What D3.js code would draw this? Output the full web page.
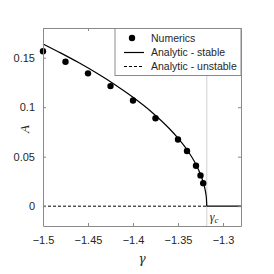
<!DOCTYPE html>
<html>
<head>
<meta charset="utf-8">
<script src="https://cdn.jsdelivr.net/npm/d3@7"></script>
<style>
  body { margin: 0; background: #fff; }
  svg text { font-family: "Liberation Sans", Arial, sans-serif; }
</style>
</head>
<body>
<div id="chart"></div>
<script>
// numerics (dots)
const numGamma = [-1.5, -1.475, -1.45, -1.425, -1.4, -1.375, -1.35, -1.34, -1.33, -1.325, -1.322];
const numA     = [0.1565, 0.1459, 0.1342, 0.1213, 0.1068, 0.0889, 0.0673, 0.0557, 0.0409, 0.0311, 0.0233];

// analytic stable branch
const anaGamma = [-1.5, -1.48, -1.46, -1.44, -1.42, -1.4, -1.38, -1.36, -1.35, -1.34, -1.33, -1.325, -1.322, -1.32, -1.319, -1.3185, -1.318];
const anaA     = [0.1639, 0.1546, 0.1448, 0.1342, 0.1227, 0.1100, 0.0957, 0.0787, 0.0687, 0.0570, 0.0421, 0.0321, 0.0243, 0.0172, 0.0121, 0.0086, 0];

const gammaC = -1.318;
const xTicks = [-1.5, -1.45, -1.4, -1.35, -1.3];
const yTicks = [0, 0.05, 0.1, 0.15];
const legendLabels = ['Numerics', 'Analytic - stable', 'Analytic - unstable'];

const W = 274, H = 274;
const margin = { top: 28, right: 33, bottom: 48, left: 43 };
const iw = W - margin.left - margin.right;
const ih = H - margin.top - margin.bottom;

const svg = d3.select('#chart').append('svg')
    .attr('width', W)
    .attr('height', H);

const g = svg.append('g').attr('transform', `translate(${margin.left},${margin.top})`);

const x = d3.scaleLinear().domain([-1.5, -1.28]).range([0, iw]);
const y = d3.scaleLinear().domain([-0.02, 0.18]).range([ih, 0]);

const axisCol = '#8a8a8a';
const textCol = '#262626';

// vertical line at gamma_c
g.append('line')
    .attr('x1', x(gammaC)).attr('x2', x(gammaC))
    .attr('y1', 0).attr('y2', ih)
    .attr('stroke', '#d0d0d0')
    .attr('stroke-width', 1);

// unstable branch (dashed at A = 0)
g.append('line')
    .attr('x1', x(-1.5)).attr('x2', x(gammaC))
    .attr('y1', y(0)).attr('y2', y(0))
    .attr('stroke', '#000')
    .attr('stroke-width', 1)
    .attr('stroke-dasharray', '3,2');

// stable zero branch after gamma_c
g.append('line')
    .attr('x1', x(gammaC)).attr('x2', x(-1.28))
    .attr('y1', y(0)).attr('y2', y(0))
    .attr('stroke', '#000')
    .attr('stroke-width', 1.2);

// analytic stable curve
const ana = anaGamma.map((d, i) => ({ g: d, a: anaA[i] }));
g.append('path')
    .datum(ana)
    .attr('fill', 'none')
    .attr('stroke', '#000')
    .attr('stroke-width', 1.2)
    .attr('d', d3.line().x(d => x(d.g)).y(d => y(d.a)).curve(d3.curveMonotoneX));

// numerics
const num = numGamma.map((d, i) => ({ g: d, a: numA[i] }));
g.append('g')
    .selectAll('circle')
    .data(num)
    .enter()
    .append('circle')
        .attr('cx', d => x(d.g))
        .attr('cy', d => y(d.a))
        .attr('r', 3.2)
        .attr('fill', '#000');

// axes (MATLAB style: ticks inside, box on)
const xAxis = g.append('g').attr('transform', `translate(0,${ih})`)
    .call(d3.axisBottom(x).tickValues(xTicks).tickSizeInner(-3).tickSizeOuter(0).tickPadding(8).tickFormat(d3.format('')));
const xAxisTop = g.append('g')
    .call(d3.axisTop(x).tickValues(xTicks).tickSizeInner(-3).tickSizeOuter(0).tickFormat(''));
const yAxis = g.append('g')
    .call(d3.axisLeft(y).tickValues(yTicks).tickSizeInner(-3).tickSizeOuter(0).tickPadding(8).tickFormat(d3.format('')));
const yAxisRight = g.append('g').attr('transform', `translate(${iw},0)`)
    .call(d3.axisRight(y).tickValues(yTicks).tickSizeInner(-3).tickSizeOuter(0).tickFormat(''));

[xAxis, xAxisTop, yAxis, yAxisRight].forEach(a => {
    a.select('.domain').attr('stroke', axisCol);
    a.selectAll('.tick line').attr('stroke', axisCol);
    a.selectAll('text').attr('fill', textCol).style('font-size', '11px')
        .style('font-family', '"Liberation Sans", Arial, sans-serif');
});
xAxis.selectAll('text').attr('dy', '0.9em');

// axis labels
svg.append('text')
    .attr('x', margin.left + iw / 2)
    .attr('y', 263)
    .attr('text-anchor', 'middle')
    .attr('fill', textCol)
    .style('font-family', '"DejaVu Serif", "Liberation Serif", serif')
    .style('font-style', 'italic')
    .style('font-size', '12px')
    .text('γ');

svg.append('text')
    .attr('transform', `translate(29,129) rotate(-90)`)
    .attr('text-anchor', 'middle')
    .attr('fill', textCol)
    .style('font-family', '"Liberation Serif", serif')
    .style('font-style', 'italic')
    .style('font-size', '13px')
    .text('A');

// gamma_c label
const gc = g.append('text')
    .attr('x', x(gammaC) + 3)
    .attr('y', y(0) + 15)
    .attr('fill', textCol)
    .style('font-family', '"Liberation Serif", serif')
    .style('font-style', 'italic')
    .style('font-size', '12px');
gc.append('tspan').text('γ');
gc.append('tspan').attr('dy', 2).style('font-size', '9px').text('c');

// legend
const lg = g.append('g').attr('transform', `translate(${iw - 126},0.5)`);
lg.append('rect')
    .attr('width', 126).attr('height', 47)
    .attr('fill', '#fff')
    .attr('stroke', axisCol)
    .attr('stroke-width', 1);
const rowY = [9.5, 24, 38];
lg.append('circle').attr('cx', 17).attr('cy', rowY[0]).attr('r', 3.2).attr('fill', '#000');
lg.append('line').attr('x1', 9).attr('x2', 29).attr('y1', rowY[1]).attr('y2', rowY[1])
    .attr('stroke', '#000').attr('stroke-width', 1.2);
lg.append('line').attr('x1', 9).attr('x2', 29).attr('y1', rowY[2]).attr('y2', rowY[2])
    .attr('stroke', '#000').attr('stroke-width', 1).attr('stroke-dasharray', '3,2');
lg.selectAll('text.leg')
    .data(legendLabels)
    .enter()
    .append('text')
        .attr('class', 'leg')
        .attr('x', 36)
        .attr('y', (d, i) => rowY[i])
        .attr('dy', '0.35em')
        .attr('fill', textCol)
        .style('font-size', '10.5px')
        .text(d => d);
</script>
</body>
</html>
